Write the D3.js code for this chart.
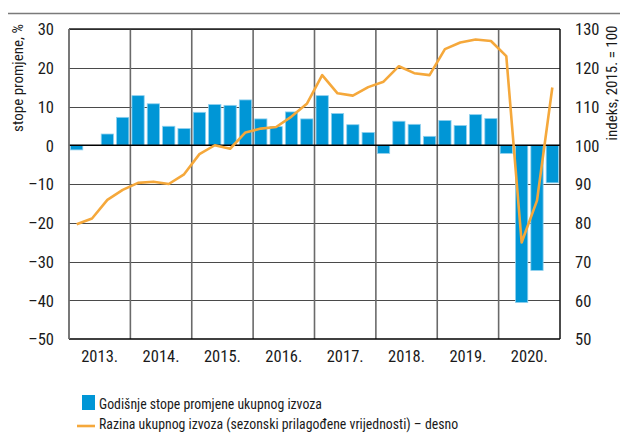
<!DOCTYPE html>
<html>
<head>
<meta charset="utf-8">
<script src="https://cdn.jsdelivr.net/npm/d3@7"></script>
<style>
  body { margin: 0; background: #fff; }
  svg text { font-family: "Roboto Condensed", "Liberation Sans", sans-serif; fill: #1a1a1a; }
</style>
</head>
<body>
<div id="chart"></div>
<script>
// quarterly data, 2013 Q1 .. 2020 Q4
const years = ['2013.', '2014.', '2015.', '2016.', '2017.', '2018.', '2019.', '2020.'];
const quarters = ['Q1', 'Q2', 'Q3', 'Q4'];
// annual growth rate of total exports, % (left axis)
const growthRate = [
  -1.2, 0, 2.9, 7.2,
  12.8, 10.7, 4.9, 4.3,
  8.5, 10.5, 10.3, 11.7,
  6.8, 4.8, 8.6, 6.8,
  12.8, 8.2, 5.3, 3.3,
  -2.1, 6.2, 5.4, 2.3,
  6.4, 5.1, 7.9, 6.9,
  -2.1, -40.6, -32.3, -9.7
];
// level of total exports, seasonally adjusted, index 2015 = 100 (right axis)
const exportLevel = [
  79.6, 81.1, 85.9, 88.5,
  90.3, 90.6, 90.0, 92.5,
  97.7, 100.0, 99.1, 103.3,
  104.3, 104.7, 107.4, 110.7,
  118.1, 113.4, 112.8, 115.0,
  116.4, 120.4, 118.6, 118.1,
  124.8, 126.5, 127.3, 126.9,
  123.0, 74.9, 85.7, 114.9
];
const leftTicks = [30, 20, 10, 0, -10, -20, -30, -40, -50];
const rightTicks = [130, 120, 110, 100, 90, 80, 70, 60, 50];
const legendLabels = [
  'Godišnje stope promjene ukupnog izvoza',
  'Razina ukupnog izvoza (sezonski prilagođene vrijednosti) – desno'
];
const leftTitle = 'stope promjene, %';
const rightTitle = 'indeks, 2015. = 100';

const W = 622, H = 433;
const margin = {top: 29, right: 62, bottom: 94, left: 69};
const barColor = '#0096d6';
const lineColor = '#f5a83b';
const fontSize = 16.5;

const periods = [];
years.forEach(function(y) { quarters.forEach(function(q) { periods.push(y + q); }); });

const svg = d3.select('#chart').append('svg')
  .attr('width', W)
  .attr('height', H);

const x0 = margin.left, x1 = W - margin.right;
const y0 = margin.top, y1 = H - margin.bottom;

const xYear = d3.scaleBand().domain(years).range([x0, x1]);
const xScale = d3.scaleBand().domain(periods).range([x0, x1]).paddingInner(0.2).paddingOuter(0.1);
const yLeft = d3.scaleLinear().domain([-50, 30]).range([y1, y0]);
const yRight = d3.scaleLinear().domain([50, 130]).range([y1, y0]);

const fmt = function(d) { return d < 0 ? '\u2013' + Math.abs(d) : String(d); };

// top rule
svg.append('line')
  .attr('x1', 8).attr('x2', 620)
  .attr('y1', 13.5).attr('y2', 13.5)
  .attr('stroke', '#7a7a7a').attr('stroke-width', 1.5);

// horizontal grid
svg.append('g')
  .selectAll('line')
  .data(leftTicks.filter(function(d) { return d !== 0 && d !== -50; }))
  .enter()
  .append('line')
  .attr('x1', x0).attr('x2', x1)
  .attr('y1', function(d) { return Math.round(yLeft(d)) + 0.5; })
  .attr('y2', function(d) { return Math.round(yLeft(d)) + 0.5; })
  .attr('stroke', '#4a4a4a').attr('stroke-width', 1.2);

// vertical year lines
svg.append('g')
  .selectAll('line')
  .data(years.slice(1))
  .enter()
  .append('line')
  .attr('x1', function(d) { return xYear(d); })
  .attr('x2', function(d) { return xYear(d); })
  .attr('y1', y0).attr('y2', y1)
  .attr('stroke', '#6a6a6a').attr('stroke-width', 1.6);

// bars
svg.append('g')
  .selectAll('rect')
  .data(growthRate)
  .enter()
  .append('rect')
  .attr('x', function(d, i) { return xScale(periods[i]); })
  .attr('y', function(d) { return yLeft(Math.max(0, d)); })
  .attr('width', xScale.bandwidth())
  .attr('height', function(d) { return Math.abs(yLeft(d) - yLeft(0)); })
  .attr('fill', barColor)
  .attr('stroke', '#8fd0ee')
  .attr('stroke-width', function(d) { return d === 0 ? 0 : 0.8; });

// zero line
svg.append('line')
  .attr('x1', x0).attr('x2', x1)
  .attr('y1', yLeft(0)).attr('y2', yLeft(0))
  .attr('stroke', '#000').attr('stroke-width', 1.5);

// frame
svg.append('line').attr('x1', x0).attr('x2', x1).attr('y1', y0).attr('y2', y0)
  .attr('stroke', '#222').attr('stroke-width', 1.5);
svg.append('line').attr('x1', x0).attr('x2', x1).attr('y1', y1).attr('y2', y1)
  .attr('stroke', '#000').attr('stroke-width', 1.5);
svg.append('line').attr('x1', x0).attr('x2', x0).attr('y1', y0).attr('y2', y1)
  .attr('stroke', '#6a6a6a').attr('stroke-width', 1.8);
svg.append('line').attr('x1', x1).attr('x2', x1).attr('y1', y0).attr('y2', y1)
  .attr('stroke', '#111').attr('stroke-width', 1.5);

// line series
const lineGenerator = d3.line()
  .x(function(d, i) { return xScale(periods[i]) + xScale.bandwidth() / 2; })
  .y(function(d) { return yRight(d); });

svg.append('path')
  .datum(exportLevel)
  .attr('d', lineGenerator)
  .attr('fill', 'none')
  .attr('stroke', lineColor)
  .attr('stroke-width', 2.6)
  .attr('stroke-linejoin', 'round');

// left axis
const leftAxis = svg.append('g')
  .attr('transform', 'translate(' + (x0 - 12) + ',0)')
  .call(d3.axisLeft(yLeft).tickValues(leftTicks).tickFormat(fmt).tickSize(0));
leftAxis.select('.domain').remove();
leftAxis.selectAll('text').attr('font-size', fontSize).attr('font-family', null).attr('dy', '0.36em');

// right axis
const rightAxis = svg.append('g')
  .attr('transform', 'translate(' + (x1 + 12) + ',0)')
  .call(d3.axisRight(yRight).tickValues(rightTicks).tickSize(0));
rightAxis.select('.domain').remove();
rightAxis.selectAll('text').attr('font-size', fontSize).attr('font-family', null).attr('dy', '0.36em');

// year labels
const xAxis = svg.append('g')
  .attr('transform', 'translate(0,' + y1 + ')')
  .call(d3.axisBottom(xYear).tickSize(0).tickPadding(11));
xAxis.select('.domain').remove();
xAxis.selectAll('text').attr('font-size', fontSize).attr('font-family', null).attr('dy', '0.71em');

// axis titles
svg.append('text')
  .attr('transform', 'translate(23,78) rotate(-90)')
  .attr('text-anchor', 'middle')
  .attr('font-size', 15)
  .text(leftTitle);
svg.append('text')
  .attr('transform', 'translate(617,83) rotate(-90)')
  .attr('text-anchor', 'middle')
  .attr('font-size', 15)
  .text(rightTitle);

// legend
const legend = svg.append('g').attr('transform', 'translate(77,0)');
legend.append('rect')
  .attr('x', 5).attr('y', 395)
  .attr('width', 13).attr('height', 15)
  .attr('fill', barColor);
legend.append('text')
  .attr('x', 22).attr('y', 408.5)
  .attr('font-size', 13.8)
  .text(legendLabels[0]);
legend.append('line')
  .attr('x1', 0).attr('x2', 18)
  .attr('y1', 426).attr('y2', 426)
  .attr('stroke', lineColor).attr('stroke-width', 2.6);
legend.append('text')
  .attr('x', 22).attr('y', 429)
  .attr('font-size', 13.8)
  .text(legendLabels[1]);
</script>
</body>
</html>
